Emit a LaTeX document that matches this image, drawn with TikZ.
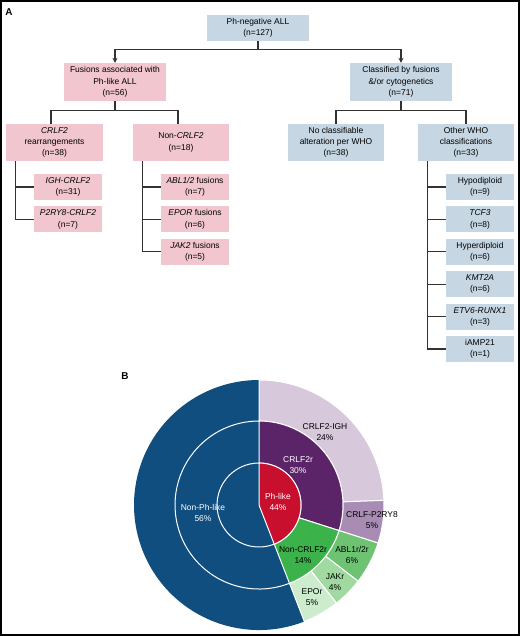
\documentclass[tikz,border=0pt]{standalone}
\usepackage{fontspec}
\setmainfont{Liberation Sans}
\usetikzlibrary{arrows.meta}
\definecolor{boxpink}{RGB}{242,198,206}
\definecolor{boxblue}{RGB}{198,215,227}
\definecolor{linegray}{RGB}{50,50,50}
\definecolor{nonph}{RGB}{16,78,128}
\definecolor{phlike}{RGB}{200,16,46}
\definecolor{crlfr}{RGB}{92,36,104}
\definecolor{igh}{RGB}{216,200,220}
\definecolor{pry}{RGB}{168,140,180}
\definecolor{noncrlf}{RGB}{60,178,75}
\definecolor{abl}{RGB}{110,195,115}
\definecolor{jak}{RGB}{160,218,160}
\definecolor{epo}{RGB}{205,236,205}
\begin{document}
\begin{tikzpicture}[x=1bp, y=1bp, >={Stealth[length=5bp,width=5bp]},
    every node/.style={font=\fontsize{8.5}{11.3}\selectfont, align=center, inner sep=0pt},
    pinkbox/.style={fill=boxpink},
    bluebox/.style={fill=boxblue},
    bigbox/.style={minimum width=102bp, minimum height=38bp},
    midbox/.style={minimum width=96bp, minimum height=37bp},
    leafbox/.style={minimum width=68bp, minimum height=26bp},
    conn/.style={draw=linegray, line width=1.2bp},
    seg/.style={draw=white, line width=1bp}]
    \useasboundingbox (0,0) rectangle (520,-636);
    \draw[line width=2bp] (1,-1) rectangle (518.5,-634.5);
    \node[font=\bfseries\fontsize{10}{12}\selectfont] (la) at (9,-12) {A};
    \node[font=\bfseries\fontsize{10}{12}\selectfont] (lb) at (125,-376) {B};

    \node[bluebox, minimum width=102bp, minimum height=26bp] (root) at (258,-28) {Ph-negative ALL\\(n=127)};
    \node[pinkbox, bigbox] (fus) at (115,-82) {Fusions associated with\\Ph-like ALL\\(n=56)};
    \node[bluebox, bigbox] (cls) at (401,-82) {Classified by fusions\\\&/or cytogenetics\\(n=71)};
    \draw[conn, ->] (root.south) -- ++(0,-8) -| (fus.north);
    \draw[conn, ->] (root.south) -- ++(0,-8) -| (cls.north);

    \node[pinkbox, midbox] (crlf) at (54.5,-142.5) {\textit{CRLF2}\\rearrangements\\(n=38)};
    \node[pinkbox, midbox] (noncr) at (181,-142.5) {Non-\textit{CRLF2}\\(n=18)};
    \node[bluebox, midbox] (nocls) at (336,-142.5) {No classifiable\\alteration per WHO\\(n=38)};
    \node[bluebox, midbox] (other) at (466,-142.5) {Other WHO\\classifications\\(n=33)};
    \draw[conn] (fus.south) -- ++(0,-9) -| ([xshift=-3.5bp]crlf.north);
    \draw[conn] (fus.south) -- ++(0,-9) -| ([xshift=-3bp]noncr.north);
    \draw[conn] (cls.south) -- ++(0,-9) -| (nocls.north);
    \draw[conn] (cls.south) -- ++(0,-9) -| (other.north);

    \foreach \lab/\n [count=\i] in {\textit{IGH-CRLF2}/31, \textit{P2RY8-CRLF2}/7} {
        \node[pinkbox, leafbox] (cr\i) at (68,-187-32.4*\i+32.4) {\lab\\(n=\n)};
        \draw[conn] ([xshift=9bp]crlf.south west) |- (cr\i.west);
    }
    \foreach \lab/\n [count=\i] in {\textit{ABL1/2} fusions/7, \textit{EPOR} fusions/6, \textit{JAK2} fusions/5} {
        \node[pinkbox, leafbox] (nc\i) at (195,-187-32.4*\i+32.4) {\lab\\(n=\n)};
        \draw[conn] ([xshift=10bp]noncr.south west) |- (nc\i.west);
    }
    \foreach \lab/\n [count=\i] in {Hypodiploid/9, \textit{TCF3}/8, Hyperdiploid/6, \textit{KMT2A}/6, \textit{ETV6-RUNX1}/3, iAMP21/1} {
        \node[bluebox, leafbox] (who\i) at (480,-187-32.4*\i+32.4) {\lab\\(n=\n)};
        \draw[conn] ([xshift=10bp]other.south west) |- (who\i.west);
    }

    \begin{scope}[shift={(259,-505)}]
        \fill[nonph] (0,0) -- (-68.74:125bp) arc[start angle=-68.74, end angle=-270, radius=125bp] -- cycle;
        \draw[seg] (-68.74:42bp) arc[start angle=-68.74, end angle=-270, radius=42bp];
        \draw[seg] (-68.74:84bp) arc[start angle=-68.74, end angle=-270, radius=84bp];
        \foreach \a/\b/\col in {90/2.13/igh, 2.13/-17.72/pry, -17.72/-37.56/abl, -37.56/-51.73/jak, -51.73/-68.74/epo} {
            \filldraw[seg, fill=\col] (\a:84bp) arc[start angle=\a, end angle=\b, radius=84bp]
                -- (\b:125bp) arc[start angle=\b, end angle=\a, radius=125bp] -- cycle;
        }
        \foreach \a/\b/\col in {90/-17.72/crlfr, -17.72/-68.74/noncrlf} {
            \filldraw[seg, fill=\col] (\a:42bp) arc[start angle=\a, end angle=\b, radius=42bp]
                -- (\b:84bp) arc[start angle=\b, end angle=\a, radius=84bp] -- cycle;
        }
        \filldraw[seg, fill=phlike] (0,0) -- (90:42bp) arc[start angle=90, end angle=-68.74, radius=42bp] -- cycle;

        \node[text=white] (tnph) at (-56,-8) {Non-Ph-like\\56\%};
        \node[text=white] (tph) at (19,3) {Ph-like\\44\%};
        \node[text=white] (tcr) at (39,40) {CRLF2r\\30\%};
        \node (tnc) at (44,-50) {Non-CRLF2r\\14\%};
        \node (tigh) at (66,73) {CRLF2-IGH\\24\%};
        \node (tpry) at (113,-15) {CRLF-P2RY8\\5\%};
        \node (tabl) at (93,-50) {ABL1r/2r\\6\%};
        \node (tjak) at (76,-77) {JAKr\\4\%};
        \node (tepo) at (53,-92) {EPOr\\5\%};
    \end{scope}
\end{tikzpicture}
\end{document}
